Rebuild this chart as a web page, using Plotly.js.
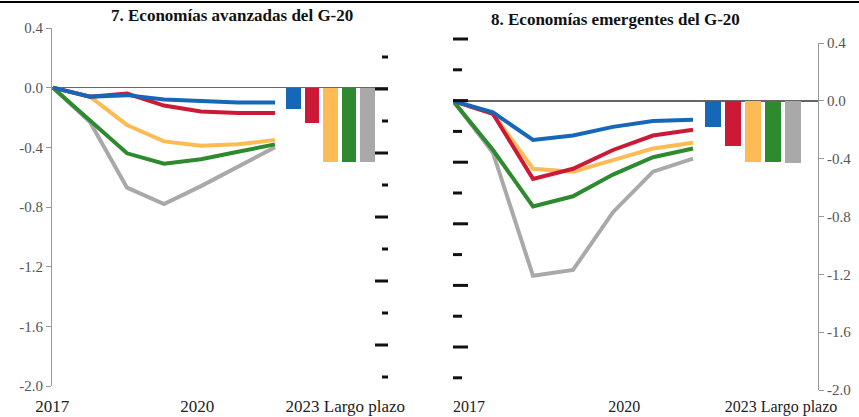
<!DOCTYPE html>
<html>
<head>
<meta charset="utf-8">
<script src="https://cdn.plot.ly/plotly-3.0.1.min.js"></script>
<style>html,body{margin:0;padding:0;background:#fff}#chart{width:859px;height:417px}</style>
</head>
<body>
<div id="chart"></div>
<script>
// ---- data ----
var years = [2017, 2018, 2019, 2020, 2021, 2022, 2023];
var seriesNames = ["Serie 1", "Serie 2", "Serie 3", "Serie 4", "Serie 5"];
// Panel 7: Economías avanzadas del G-20
var adv_blue   = [0, -0.06, -0.05, -0.08, -0.09, -0.10, -0.10];
var adv_red    = [0, -0.06, -0.04, -0.12, -0.16, -0.17, -0.17];
var adv_yellow = [0, -0.06, -0.25, -0.36, -0.39, -0.38, -0.35];
var adv_green  = [0, -0.22, -0.44, -0.51, -0.48, -0.43, -0.38];
var adv_gray   = [0, -0.23, -0.67, -0.78, -0.66, -0.53, -0.40];
var adv_longrun = [-0.14, -0.24, -0.50, -0.50, -0.50];
// Panel 8: Economías emergentes del G-20
var em_blue   = [0, -0.08, -0.27, -0.24, -0.18, -0.14, -0.13];
var em_red    = [0, -0.09, -0.54, -0.47, -0.34, -0.24, -0.20];
var em_yellow = [0, -0.09, -0.47, -0.49, -0.41, -0.33, -0.29];
var em_green  = [0, -0.34, -0.73, -0.66, -0.51, -0.39, -0.33];
var em_gray   = [0, -0.36, -1.21, -1.17, -0.77, -0.49, -0.40];
var em_longrun = [-0.18, -0.31, -0.42, -0.42, -0.43];
var yTickVals = [0.4, 0.0, -0.4, -0.8, -1.2, -1.6, -2.0];
var yTickText = ["0.4", "0.0", "-0.4", "-0.8", "-1.2", "-1.6", "-2.0"];
var xTickText = ["2017", "2020", "2023 Largo plazo"];
var titles = ["7. Economías avanzadas del G-20", "8. Economías emergentes del G-20"];

// ---- styles ----
var colors = ["#1767B8", "#CC1A36", "#FDBB55", "#2E8A2E", "#A9A9A9"];
var W = 859, H = 417;
function px(x) { return x / W; }
function py(y) { return 1 - y / H; }
var serif = "'Liberation Serif', 'Times New Roman', serif";

var traces = [];
function addPanel(lines, bars, xa, ya) {
  // draw gray first so blue ends on top
  for (var i = lines.length - 1; i >= 0; i--) {
    traces.push({
      type: "scatter", mode: "lines", x: years, y: lines[i], name: seriesNames[i],
      xaxis: xa, yaxis: ya, showlegend: false, hoverinfo: "skip",
      line: { color: colors[i], width: 4 }
    });
  }
  var last = years[years.length - 1];
  var barX = bars.map(function (_, i) { return last + 0.5 + 0.5 * i; });
  traces.push({
    type: "bar", x: barX, y: bars, width: 0.4, xaxis: xa, yaxis: ya,
    marker: { color: colors }, showlegend: false, hoverinfo: "skip"
  });
}
addPanel([adv_blue, adv_red, adv_yellow, adv_green, adv_gray], adv_longrun, "x", "y");
addPanel([em_blue, em_red, em_yellow, em_green, em_gray], em_longrun, "x2", "y2");

var yCommon = {
  range: [-2.0, 0.4], tickvals: yTickVals, ticktext: yTickText,
  showgrid: false, showline: true, linecolor: "#9a9a9a", linewidth: 1,
  ticks: "outside", ticklen: 5, tickcolor: "#9a9a9a",
  zeroline: true, zerolinecolor: "#666", zerolinewidth: 1.6,
  tickfont: { family: serif, size: 15, color: "#555" }, fixedrange: true
};
var xCommon = {
  showgrid: false, showline: false, zeroline: false, ticks: "",
  ticktext: xTickText, tickmode: "array",
  tickfont: { family: serif, size: 17, color: "#222" }, fixedrange: true
};

// decorative dashes between panels
var shapes = [{
  type: "line", xref: "paper", yref: "paper", x0: 0, x1: 1, y0: py(2), y1: py(2),
  line: { color: "#000", width: 2 }
}];
for (var k = 0; k < 11; k++) {
  var yy = py(57 + 32 * k);
  var long = (k % 2 === 1);
  shapes.push({ type: "line", xref: "paper", yref: "paper",
    x0: px(long ? 375 : 382), x1: px(388), y0: yy, y1: yy,
    line: { color: "#111", width: 3 } });
}
for (var k2 = 0; k2 < 12; k2++) {
  var yy2 = py(39 + 30.8 * k2);
  var long2 = (k2 % 2 === 0);
  shapes.push({ type: "line", xref: "paper", yref: "paper",
    x0: px(453), x1: px(long2 ? 468 : 462), y0: yy2, y1: yy2,
    line: { color: "#111", width: 3 } });
}

var layout = {
  width: W, height: H, margin: { l: 0, r: 0, t: 0, b: 0 },
  paper_bgcolor: "#fff", plot_bgcolor: "rgba(0,0,0,0)",
  showlegend: false, bargap: 0,
  xaxis: Object.assign({}, xCommon, {
    domain: [px(52), px(388)], range: [2016.973, 2026.054], anchor: "y",
    tickvals: [2016.98, 2020.9, 2024.9], ticklabelstandoff: 8
  }),
  yaxis: Object.assign({}, yCommon, { domain: [py(386), py(28)], anchor: "x", side: "left" }),
  xaxis2: Object.assign({}, xCommon, {
    domain: [px(453), px(818)], range: [2017, 2026.125], anchor: "y2",
    tickvals: [2017.4, 2021.28, 2025.2], ticklabelstandoff: 5,
    tickfont: { family: serif, size: 16, color: "#222" }
  }),
  yaxis2: Object.assign({}, yCommon, { domain: [py(390), py(43)], anchor: "x2", side: "right" }),
  shapes: shapes,
  annotations: [
    { text: "<b>" + titles[0] + "</b>", xref: "paper", yref: "paper", x: px(232), y: py(15),
      xanchor: "center", yanchor: "middle", showarrow: false,
      font: { family: serif, size: 17, color: "#111" } },
    { text: "<b>" + titles[1] + "</b>", xref: "paper", yref: "paper", x: px(615), y: py(19),
      xanchor: "center", yanchor: "middle", showarrow: false,
      font: { family: serif, size: 17, color: "#111" } }
  ]
};
Plotly.newPlot("chart", traces, layout, { staticPlot: true, displayModeBar: false });
</script>
</body>
</html>
